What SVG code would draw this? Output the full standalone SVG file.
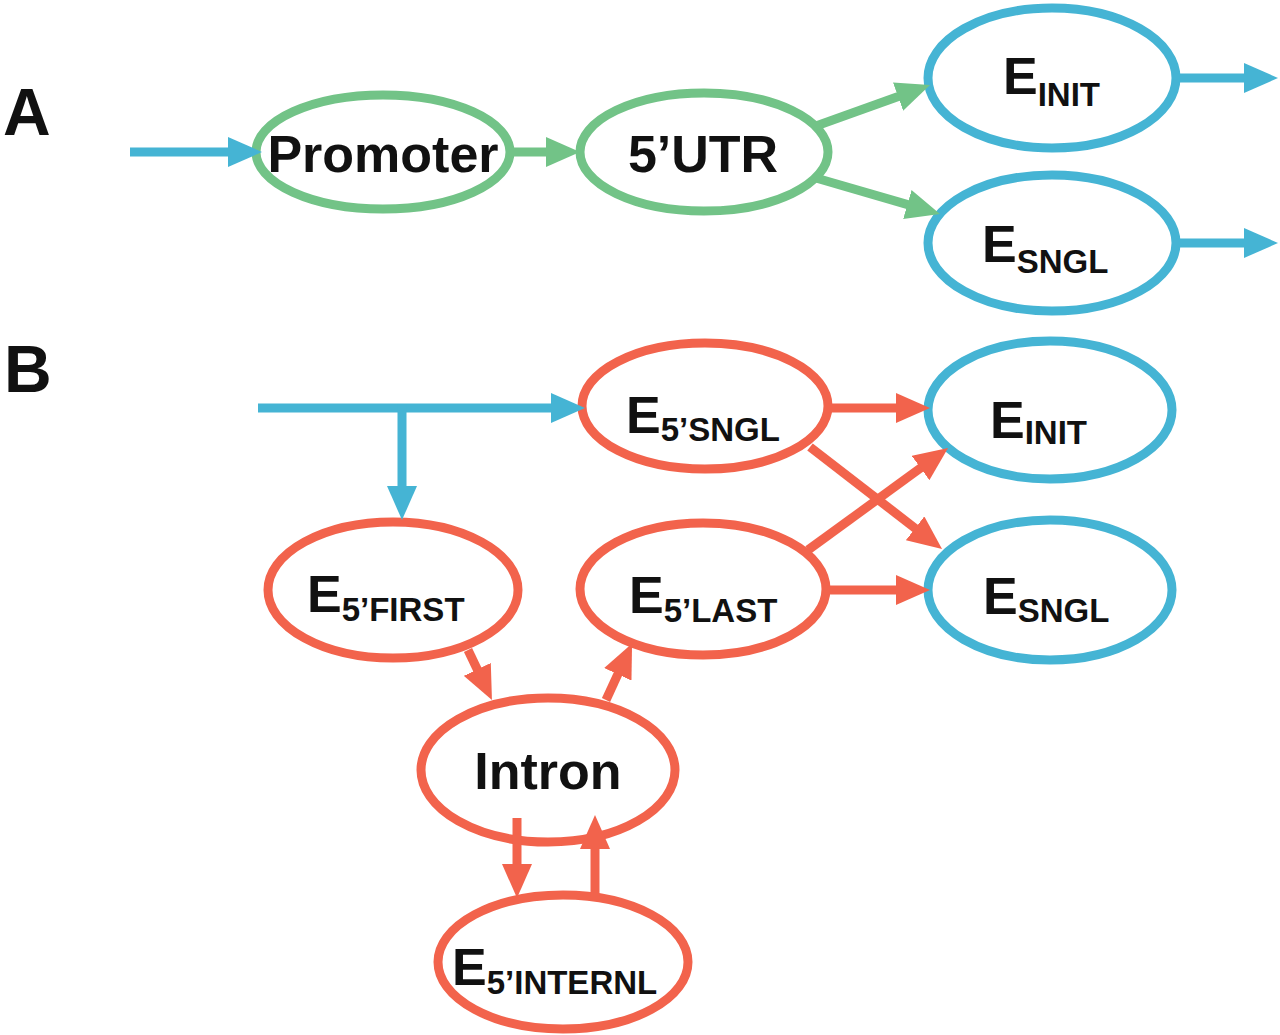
<svg xmlns="http://www.w3.org/2000/svg" width="1280" height="1035" viewBox="0 0 1280 1035">
<style>
.bg{fill:#ffffff}
.g{fill:none;stroke:#72c387;stroke-width:9}
.b{fill:none;stroke:#45b4d4;stroke-width:9}
.r{fill:none;stroke:#f2634c;stroke-width:9}
.t{font-family:"Liberation Sans",Arial,sans-serif;font-weight:bold;fill:#111}
.big{font-size:52px}
.sub{font-size:33px}
.lab{font-size:66px}
.gl{stroke:#72c387;stroke-width:9;fill:none}
.bl{stroke:#45b4d4;stroke-width:9;fill:none}
.rl{stroke:#f2634c;stroke-width:9;fill:none}
</style>
<defs>
<marker id="hg" markerUnits="userSpaceOnUse" markerWidth="34" markerHeight="30" refX="4" refY="15" orient="auto"><path d="M0,0 L34,15 L0,30 z" fill="#72c387"/></marker>
<marker id="hb" markerUnits="userSpaceOnUse" markerWidth="34" markerHeight="30" refX="4" refY="15" orient="auto"><path d="M0,0 L34,15 L0,30 z" fill="#45b4d4"/></marker>
<marker id="hr" markerUnits="userSpaceOnUse" markerWidth="34" markerHeight="30" refX="4" refY="15" orient="auto"><path d="M0,0 L34,15 L0,30 z" fill="#f2634c"/></marker>
</defs>
<rect class="bg" x="0" y="0" width="1280" height="1035"/>
<text class="t lab" x="3" y="135">A</text>
<text class="t lab" x="4" y="392">B</text>

<g id="promoter"><ellipse class="g" cx="383" cy="152" rx="127" ry="57"/><text class="t big" x="383" y="172" text-anchor="middle">Promoter</text></g>
<g id="utr5"><ellipse class="g" cx="704" cy="152" rx="124" ry="59"/><text class="t big" x="703" y="172" text-anchor="middle">5’UTR</text></g>
<g id="einitA"><ellipse class="b" cx="1052" cy="78" rx="124" ry="70"/><text class="t big" x="1003" y="94">E<tspan class="sub" dy="12">INIT</tspan></text></g>
<g id="esnglA"><ellipse class="b" cx="1052" cy="243" rx="124" ry="68"/><text class="t big" x="982" y="262">E<tspan class="sub" dy="11">SNGL</tspan></text></g>

<g id="e5sngl"><ellipse class="r" cx="705" cy="406" rx="123" ry="63"/><text class="t big" x="626" y="433">E<tspan class="sub" dy="8">5’SNGL</tspan></text></g>
<g id="einitB"><ellipse class="b" cx="1050" cy="410" rx="122" ry="69"/><text class="t big" x="990" y="438">E<tspan class="sub" dy="6">INIT</tspan></text></g>
<g id="esnglB"><ellipse class="b" cx="1050" cy="590" rx="122" ry="70"/><text class="t big" x="983" y="614">E<tspan class="sub" dy="8">SNGL</tspan></text></g>
<g id="e5first"><ellipse class="r" cx="393" cy="590" rx="125" ry="68"/><text class="t big" x="307" y="612">E<tspan class="sub" dy="9">5’FIRST</tspan></text></g>
<g id="e5last"><ellipse class="r" cx="703" cy="589" rx="123" ry="66"/><text class="t big" x="629" y="613">E<tspan class="sub" dy="9">5’LAST</tspan></text></g>
<g id="intron"><ellipse class="r" cx="548" cy="770" rx="127" ry="72"/><text class="t big" x="548" y="789" text-anchor="middle">Intron</text></g>
<g id="e5internl"><ellipse class="r" cx="563" cy="962" rx="125" ry="67"/><text class="t big" x="452" y="985">E<tspan class="sub" dy="9">5’INTERNL</tspan></text></g>

<g id="connectors">
<line class="bl" x1="130" y1="152" x2="232" y2="152" marker-end="url(#hb)"/>
<line class="gl" x1="510" y1="152" x2="550" y2="152" marker-end="url(#hg)"/>
<line class="gl" x1="816" y1="126" x2="901.8" y2="95.2" marker-end="url(#hg)"/>
<line class="gl" x1="816" y1="178" x2="911.2" y2="205.6" marker-end="url(#hg)"/>
<line class="bl" x1="1176" y1="78" x2="1248" y2="78" marker-end="url(#hb)"/>
<line class="bl" x1="1176" y1="243" x2="1248" y2="243" marker-end="url(#hb)"/>

<line class="bl" x1="258" y1="408" x2="555" y2="408" marker-end="url(#hb)"/>
<line class="bl" x1="402" y1="404" x2="402" y2="490" marker-end="url(#hb)"/>
<line class="rl" x1="828" y1="408" x2="900" y2="408" marker-end="url(#hr)"/>
<line class="rl" x1="826" y1="590" x2="900" y2="590" marker-end="url(#hr)"/>
<line class="rl" x1="810" y1="447" x2="918.3" y2="530.7" marker-end="url(#hr)"/>
<line class="rl" x1="808" y1="550" x2="923.8" y2="465.7" marker-end="url(#hr)"/>
<line class="rl" x1="468" y1="650" x2="479" y2="673" marker-end="url(#hr)"/>
<line class="rl" x1="606" y1="700" x2="619.5" y2="670.7" marker-end="url(#hr)"/>
<line class="rl" x1="517" y1="818" x2="517" y2="868" marker-end="url(#hr)"/>
<line class="rl" x1="595" y1="897" x2="595" y2="845" marker-end="url(#hr)"/>
</g>
</svg>
